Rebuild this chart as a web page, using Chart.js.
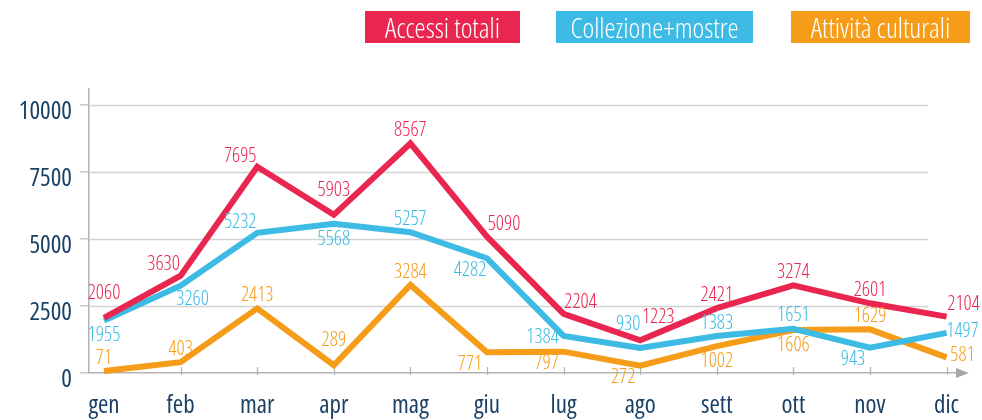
<!DOCTYPE html>
<html>
<head>
<meta charset="utf-8">
<script src="https://cdn.jsdelivr.net/npm/chart.js@4.4.1/dist/chart.umd.min.js"></script>
<style>
  html, body { margin: 0; padding: 0; background: #ffffff; }
  #wrap { position: relative; width: 982px; height: 420px; overflow: hidden; }
  canvas { position: absolute; left: 0; top: 0; }
  .lg { position: absolute; top: 11px; height: 32px; line-height: 32px; color: #ffffff; text-align: center;
        font-family: 'Open Sans', sans-serif; font-stretch: condensed; font-weight: 300; font-size: 28px; white-space: nowrap; }
</style>
</head>
<body>
<div id="wrap">
  <canvas id="c" width="982" height="420"></canvas>
  <div class="lg" id="lg0" style="left:365px;width:155px;"></div>
  <div class="lg" id="lg1" style="left:556px;width:197px;"></div>
  <div class="lg" id="lg2" style="left:791px;width:179px;"></div>
</div>
<script>
// ---- data ----
const months = ['gen','feb','mar','apr','mag','giu','lug','ago','sett','ott','nov','dic'];
const seriesNames = ['Accessi totali','Collezione+mostre','Attività culturali'];
const accessi    = [2060, 3630, 7695, 5903, 8567, 5090, 2204, 1223, 2421, 3274, 2601, 2104];
const collezione = [1955, 3260, 5232, 5568, 5257, 4282, 1384,  930, 1383, 1651,  943, 1497];
const attivita   = [  71,  403, 2413,  289, 3284,  771,  797,  272, 1002, 1606, 1629,  581];
const yTicks = [0, 2500, 5000, 7500, 10000];

// ---- label placement codes (layout only) ----
const placeAccessi    = ['A','al','al','A','a','ar','ar','AR','a','a','a','ar'];
const placeCollezione = ['b','br','al','b','a','bl','l','AL','a','a','bl','r'];
const placeAttivita   = ['a','a','a','A','a','bl','bl','bl','b','b','a','r'];
const placeOffsets = {
  a: [0,-13], A: [0,-25], b: [0,15], al: [-17,-11], ar: [17,-12],
  AL: [-12,-24], AR: [18,-23], bl: [-17,12], br: [12,14], l: [-21,1], r: [16,-2]
};

const colors = ['#e8264f', '#3dbbe4', '#f59c18'];
const navy = '#1b4266';
const FAM = "'Open Sans', 'Roboto Condensed', sans-serif";

['lg0','lg1','lg2'].forEach((id,i)=>{
  const el = document.getElementById(id);
  el.textContent = seriesNames[i];
  el.style.background = colors[i];
});

const toPts = arr => arr.map((v,i)=>({x:i, y:v}));

const decor = {
  id: 'decor',
  beforeDatasetsDraw(chart) {
    const {ctx, chartArea, scales} = chart;
    const ys = scales.y, xs = scales.x;
    ctx.save();
    ctx.strokeStyle = '#d3d3d3';
    ctx.lineWidth = 1.5;
    yTicks.forEach(v => {
      if (v === 0) return;
      const y = Math.round(ys.getPixelForValue(v)) + 0.5;
      ctx.beginPath();
      ctx.moveTo(chartArea.left, y);
      ctx.lineTo(928, y);
      ctx.stroke();
    });
    const y0 = ys.getPixelForValue(0);
    // x tick marks
    ctx.strokeStyle = '#b3b3b3';
    ctx.lineWidth = 1.2;
    months.forEach((m,i) => {
      if (i === 0) return;
      const x = Math.round(xs.getPixelForValue(i)) + 0.5;
      ctx.beginPath();
      ctx.moveTo(x, y0 - 6);
      ctx.lineTo(x, y0 + 2);
      ctx.stroke();
    });
    // arrow
    ctx.fillStyle = '#a6a6a6';
    ctx.beginPath();
    ctx.moveTo(chartArea.right - 2, y0 - 5);
    ctx.lineTo(chartArea.right + 11, y0);
    ctx.lineTo(chartArea.right - 2, y0 + 5);
    ctx.closePath();
    ctx.fill();
    // axis tick labels
    ctx.fillStyle = navy;
    ctx.font = "condensed 500 25px " + FAM;
    ctx.textAlign = 'right';
    ctx.textBaseline = 'middle';
    yTicks.forEach(v => {
      ctx.fillText(String(v), 72, ys.getPixelForValue(v) + 7);
    });
    ctx.textAlign = 'center';
    months.forEach((m,i) => {
      ctx.fillText(m, xs.getPixelForValue(i), y0 + 33);
    });
    ctx.restore();
  }
};

const valueLabels = {
  id: 'valueLabels',
  afterDatasetsDraw(chart) {
    const {ctx} = chart;
    const sets = [[accessi, placeAccessi], [collezione, placeCollezione], [attivita, placeAttivita]];
    ctx.save();
    ctx.font = "condensed 300 20px " + FAM;
    ctx.textAlign = 'center';
    ctx.textBaseline = 'middle';
    sets.forEach(([vals, place], di) => {
      const meta = chart.getDatasetMeta(di);
      ctx.fillStyle = colors[di];
      vals.forEach((v, i) => {
        const p = meta.data[i];
        const off = placeOffsets[place[i]];
        ctx.fillText(String(v), p.x + off[0], p.y + off[1]);
      });
    });
    ctx.restore();
  }
};

new Chart(document.getElementById('c'), {
  type: 'line',
  data: {
    datasets: [
      { label: seriesNames[0], data: toPts(accessi),    borderColor: colors[0], backgroundColor: colors[0] },
      { label: seriesNames[1], data: toPts(collezione), borderColor: colors[1], backgroundColor: colors[1] },
      { label: seriesNames[2], data: toPts(attivita),   borderColor: colors[2], backgroundColor: colors[2] }
    ].map(d => Object.assign(d, { borderWidth: 6, pointRadius: 0, pointHoverRadius: 0, tension: 0, fill: false, clip: false, borderJoinStyle: 'miter' }))
  },
  options: {
    responsive: false,
    animation: false,
    events: [],
    layout: { padding: { top: 89, right: 24, left: 0, bottom: 0 } },
    plugins: { legend: { display: false }, tooltip: { enabled: false } },
    scales: {
      x: {
        type: 'linear',
        min: -0.196,
        max: 11.149,
        afterBuildTicks: s => { s.ticks = months.map((m,i)=>({ value: i })); },
        afterFit: s => { s.height = 47; },
        ticks: { display: false },
        grid: { display: false, drawTicks: false },
        border: { display: true, color: '#b3b3b3', width: 1.5 }
      },
      y: {
        min: 0,
        max: 10600,
        afterBuildTicks: s => { s.ticks = yTicks.map(v => ({ value: v })); },
        afterFit: s => { s.width = 89; },
        ticks: { display: false },
        grid: { drawOnChartArea: false, drawTicks: true, tickLength: 9, color: '#c8c8c8', lineWidth: 1.5 },
        border: { display: true, color: '#b3b3b3', width: 1.5 }
      }
    }
  },
  plugins: [decor, valueLabels]
});
</script>
</body>
</html>
